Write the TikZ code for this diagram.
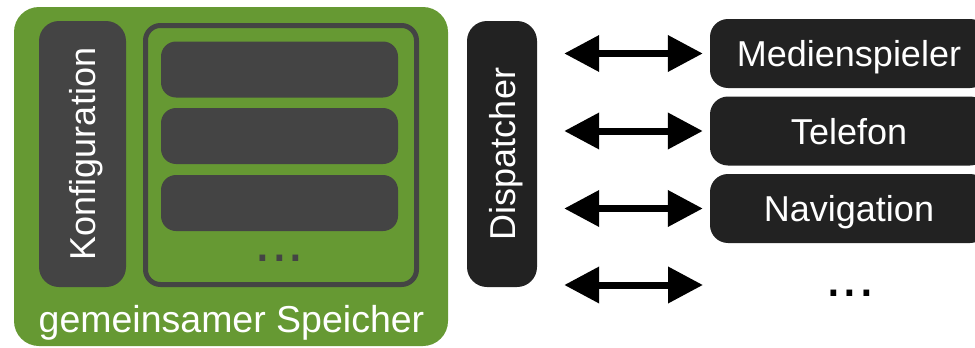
\documentclass[tikz,border=0pt]{standalone}
\usepackage{fontspec}
\setmainfont{Liberation Sans}
\usetikzlibrary{arrows.meta}

\definecolor{speichergruen}{HTML}{669933}
\definecolor{modulgrau}{HTML}{444444}
\definecolor{modulschwarz}{HTML}{222222}

\begin{document}
\begin{tikzpicture}[x=1pt,y=-1pt,
  schrift/.style={text=white, font=\fontsize{36}{40}\selectfont},
  punkte/.style={font=\fontsize{60}{60}\selectfont, inner sep=0pt, anchor=base},
  kasten/.style={schrift, rounded corners=20pt, inner sep=0pt, text depth=0pt},
  fach/.style={fill=modulgrau, rounded corners=15pt, minimum width=237pt, minimum height=56pt},
  dienst/.style={kasten, fill=modulschwarz, rounded corners=18pt, minimum width=278pt, minimum height=69pt},
  verbindung/.style={{Triangle[length=35pt,width=35pt]}-{Triangle[length=35pt,width=35pt]}, line width=7pt, shorten <=27pt, shorten >=7pt}]
\clip (0,0) rectangle (975,348);

\node[fill=speichergruen, rounded corners=25pt, minimum width=434pt, minimum height=339pt] (speicher) at (231,176.5) {};
\node[kasten, fill=modulgrau, rotate=90, minimum width=266pt, minimum height=87pt] (konfig) at (82.5,154) {Konfiguration};
\node[draw=modulgrau, line width=5pt, rounded corners=15pt, minimum width=271pt, minimum height=259pt] (liste) at (281,155) {};
\foreach \y [count=\i] in {69.5,136,203}
  \node[fach] (fach\i) at (279.5,\y) {};
\node[punkte, text=modulgrau] (fachmehr) at (279.5,261) {...};
\node[schrift, font=\fontsize{37.5}{40}\selectfont, anchor=base] (speichertext) at (231.5,332) {gemeinsamer Speicher};

\node[kasten, fill=modulschwarz, rotate=90, minimum width=266pt, minimum height=70pt] (disp) at (502,154) {Dispatcher};

\node[dienst] (medien) at (849,53.5) {Medienspieler};
\node[dienst] (telefon) at (849,131) {Telefon};
\node[dienst] (navi) at (849,208.5) {Navigation};
\node[punkte] (dienstmehr) at (850,296) {...};
\coordinate (mehr) at (710,285);

\draw[verbindung] (disp.south |- medien.west) -- (medien.west);
\draw[verbindung] (disp.south |- telefon.west) -- (telefon.west);
\draw[verbindung] (disp.south |- navi.west) -- (navi.west);
\draw[verbindung] (disp.south |- mehr) -- (mehr);
\end{tikzpicture}
\end{document}
